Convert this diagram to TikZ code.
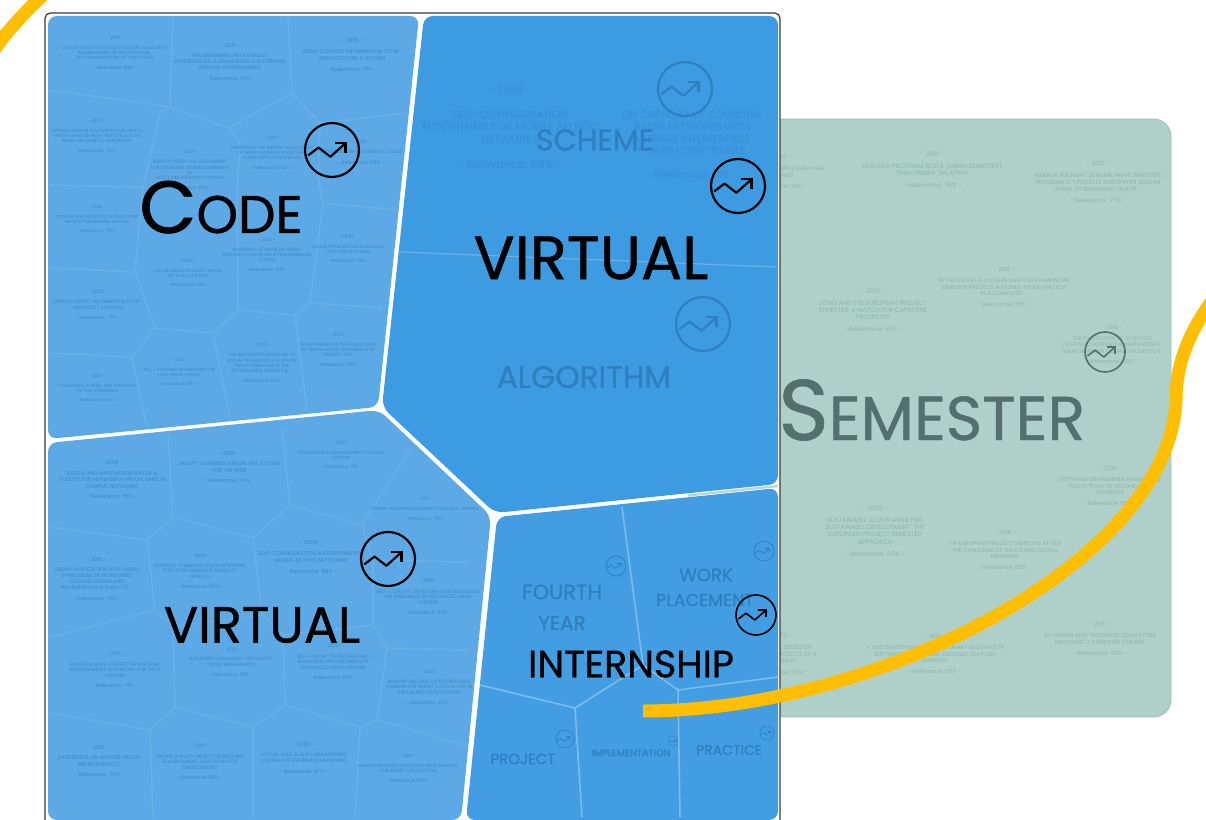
\documentclass[tikz,border=0pt]{standalone}
\usepackage{fontspec}
\setmainfont{Poppins}
\newfontfamily\labelfont{Poppins}[FakeBold=0.8]
\newcommand\px[1]{\fontsize{\fpeval{#1*0.569}}{\fpeval{#1*0.569*1.15}}\selectfont}
\definecolor{codeblue}{HTML}{5CA9E5}
\definecolor{mainblue}{HTML}{3D9BE1}
\definecolor{internblue}{HTML}{439DE2}
\definecolor{semgreen}{HTML}{AFD0C8}
\definecolor{semedge}{HTML}{9DC2B8}
\definecolor{semgap}{HTML}{B5D9CE}
\definecolor{semtext}{HTML}{8FB3AB}
\definecolor{semdark}{HTML}{53706C}
\definecolor{celltext}{HTML}{3F86C4}
\definecolor{maintext}{HTML}{3490D6}
\definecolor{ghost}{HTML}{2E80BF}
\definecolor{cellrule}{HTML}{69B0E7}
\definecolor{cellrulebright}{HTML}{7DBBEA}
\definecolor{gold}{HTML}{FFBE00}
\definecolor{frameline}{HTML}{3A3A3A}
\tikzset{
  cellnote/.style={font=\px{5},text=celltext,align=center,inner sep=0pt},
  semnote/.style={font=\px{5.6},text=semtext,align=center,inner sep=0pt},
  mainnote/.style={font=\px{11},text=maintext,align=center,inner sep=0pt},
  cellline/.style={draw=cellrule,line width=0.9pt,line join=round},
  brightline/.style={draw=cellrulebright,line width=0.9pt,line join=round},
  region/.style={rounded corners=5pt},
  biglabel/.style={inner sep=0pt,text=black},
  ghostlabel/.style={inner sep=0pt,text=ghost,align=center},
  goldline/.style={draw=gold,line width=7.4pt}
}
\newcommand\cellnode[7]{\node[#1] (#2) at (#3,#4) {#5\\[2.6pt]#6\\[2.6pt]#7};}
\newcommand\trend[5]{%
  \begin{scope}[shift={(#2,#3)},x={#4*0.02cm},y={-#4*0.02cm}]
    \node[circle,draw=#5,line width={#4*0.046pt},minimum size={2*#4*0.02cm},inner sep=0pt] (#1) at (0,0) {};
    \draw[draw=#5,line width={#4*0.046pt},line join=round] (-0.88,0.2) -- (-0.5,-0.09) -- (-0.06,0.25) -- (0.5,-0.25);
    \draw[draw=#5,line width={#4*0.046pt},line join=miter] (0.12,-0.25) -- (0.5,-0.25) -- (0.5,0.1);
  \end{scope}}
\begin{document}
\begin{tikzpicture}[x=0.02cm,y=-0.02cm]
\useasboundingbox (0,0) rectangle (1206,820);
\fill[white] (0,0) rectangle (1206,820);

% Semester card behind the frame
\filldraw[fill=semgreen,draw=semedge,line width=0.5pt,rounded corners=10pt] (760,119) rectangle (1171,717);
\cellnode{semnote}{s1}{780}{172}{- 2021 -}{MICROPROCESSORS (HARDWARE\\DESIGN99}{- Relevance: 74\% -}
\cellnode{semnote,font=\px{6.4}}{s2}{932}{170}{- 2018 -}{EVALUASI PROGRAM BESTA (HIBAH SEMESTER)\\'SHM UNISBA' SALATIGA}{- Relevance: 75\% -}
\cellnode{semnote,font=\px{6}}{s3}{1098}{182}{- 2021 -}{KINERJA PERAWAT DI KLINIK AKHIR SEMESTER\\PROGRAM S-1 PRODI DI KABUPATEN SIDOAN\\UTARA, DI SEMARANG TIUR PE ...}{- Relevance: 77\% -}
\cellnode{semnote,font=\px{6.3}}{s4}{873}{310}{- 2010 -}{ZOHO AND THE EUROPEAN PROJECT\\SEMESTER: A MATCH FOR CAPSTONE\\PROJECTS?}{- Relevance: 67\% -}
\cellnode{semnote}{s5}{1004}{287}{- 2018 -}{BY PROVIDING A SYSTEMS ANALYSIS FRAMEWORK\\SEMESTER PROJECT: A MOBILE-BASED AND NOT\\IN A COMPUTER ...}{- Relevance: 75\% -}
\cellnode{semnote,font=\px{5.4}}{s6}{1112}{345}{- 2016 -}{THE EVALUATION OF STUDENTS\\POSITIVE COOPERATIVE MANAGEMENT\\WEEK SEMESTER COURSE PROMOTION}{- Relevance: 65\% -}
\cellnode{semnote}{s7}{1110}{486}{- 2021 -}{SOFTWARE ENGINEERING FRAMEWORK\\PERCEPTIONS OF SECOND YEAR\\STUDENTS}{- Relevance: 66\% -}
\cellnode{semnote,font=\px{6.4}}{s8}{875}{531}{- 2008 -}{SUSTAINABLE CLOUD AGILE FOR\\SUSTAINABLE DEVELOPMENT: THE\\EUROPEAN PROJECT SEMESTER\\APPROACH}{- Relevance: 65\% -}
\cellnode{semnote}{s9}{1005}{550}{- 2018 -}{THE EUROPEAN PROJECT SEMESTER AT ISEP:\\THE CHALLENGE OF EDUCATING GLOBAL\\ENGINEERS}{- Relevance: 65\% -}
\cellnode{semnote,font=\px{6}}{s10}{780}{654}{- 2022 -}{IMMERSION: SEMESTER\\CAPSTONE PROJECT AS A\\STRATEGY?}{- Relevance: 67\% -}
\cellnode{semnote}{s11}{935}{654}{- 2013 -}{A TWO SEMESTER MULTI-DISCIPLINARY SEQUENCE IN\\SOFTWARE ENGINEERING: DESIGNED (UAP SAN\\MARCOS)}{- Relevance: 65\% -}
\cellnode{semnote,font=\px{5.9}}{s12}{1100}{639}{- 2021 -}{IN CAREER AND TECHNICAL EDUCATION\\IMPROVED 2-SEMESTER COURSE}{- Relevance: 63\% -}
\trend{iconSem}{1105}{352}{20}{semdark}
\node[inner sep=0pt,text=semdark,anchor=base west] (semester) at (778,440) {\labelfont\px{86}S\px{62}EMESTER};

% Frame
\filldraw[fill=white,draw=frameline,line width=0.7pt,rounded corners=3pt] (45,13) rectangle (780,830);

% Regions
\fill[codeblue,region] (48,16) -- (419,16) -- (378,407) -- (48,439) -- cycle;
\fill[codeblue,region] (48,443) -- (379,410) -- (491,516) -- (461,820) -- (48,820) -- cycle;
\fill[mainblue,region] (424,16) -- (778,16) -- (778,484) -- (495,513) -- (382,407) -- cycle;
\fill[internblue,region] (497,517) -- (778,488) -- (778,820) -- (466,820) -- cycle;
\draw[draw=semgap,line width=1.3pt] (688,495.5) -- (778,486);

% Code cell rules
\draw[cellline] (173,17) -- (170,107) -- (50,90);
\draw[cellline] (170,107) -- (228,128) -- (292,93) -- (288,17);
\draw[cellline] (292,93) -- (320,123) -- (407,113);
\draw[cellline] (320,123) -- (318,177) -- (323,203) -- (397,210);
\draw[cellline] (228,128) -- (240,143) -- (237,190) -- (238,310);
\draw[cellline] (170,107) -- (160,113) -- (143,187) -- (135,272) -- (50,268);
\draw[cellline] (143,187) -- (50,185);
\draw[cellline] (135,272) -- (155,328) -- (132,357) -- (50,353);
\draw[cellline] (155,328) -- (213,333) -- (238,310) -- (295,315) -- (310,303) -- (323,203);
\draw[cellline] (310,303) -- (383,308);
\draw[cellline] (213,333) -- (230,418);
\draw[cellline] (295,315) -- (307,410);
\draw[cellline] (132,357) -- (147,427);

% Lower Virtual cell rules
\draw[cellline] (168,435) -- (173,517) -- (147,540) -- (50,527);
\draw[cellline] (173,517) -- (253,538) -- (290,505) -- (282,430);
\draw[cellline] (290,505) -- (362,525) -- (410,450);
\draw[cellline] (362,525) -- (373,560) -- (467,562);
\draw[cellline] (147,540) -- (155,610) -- (173,627) -- (175,707) -- (150,730) -- (50,713);
\draw[cellline] (155,610) -- (50,637);
\draw[cellline] (253,538) -- (262,615);
\draw[cellline] (173,627) -- (262,615) -- (283,635) -- (285,705);
\draw[cellline] (283,635) -- (373,625) -- (373,560);
\draw[cellline] (373,625) -- (387,648) -- (467,650);
\draw[cellline] (387,648) -- (377,720);
\draw[cellline] (175,707) -- (253,727) -- (285,705) -- (360,727) -- (377,720) -- (464,745);
\draw[cellline] (150,730) -- (153,817);
\draw[cellline] (253,727) -- (253,817);
\draw[cellline] (360,727) -- (355,817);

% Main cell rule
\draw[draw=cellrule,line width=0.7pt] (400,252) -- (777,267);

% Internship cell rules
\draw[brightline] (622,507) -- (643,665) -- (575,708) -- (480,685);
\draw[brightline] (643,665) -- (678,690) -- (778,677);
\draw[brightline] (678,690) -- (680,817);
\draw[brightline] (575,708) -- (582,817);

% Cell notes: Code
\cellnode{cellnote,font=\px{4.6}}{c1}{115}{53}{- 2019 -}{A PILOT STUDY TO EVALUATE GUARD RAILS WITH\\MANAGEMENT OF PROFESSIONAL\\RECOMMENDATION OF CODE FIXES}{- Relevance: 89\% -}
\cellnode{cellnote,font=\px{5.2}}{c2}{230}{62}{- 2011 -}{PROGRAMMING WITH EXPLICIT\\DEPENDENCIES: A FRAMEWORK FOR FORGING\\PARALLEL PROGRAMMERS}{- Relevance: 78\% -}
\cellnode{cellnote,font=\px{5.5}}{c3}{352}{55}{- 2016 -}{USING CONTEXT INFORMATION TO RE-\\ARCHITECTURE A SYSTEM}{- Relevance: 75\% -}
\cellnode{cellnote,font=\px{4.6}}{c4}{97}{136}{- 2017 -}{OPTIMAL SENSOR PLACEMENT FOR HEALTH\\MONITORING OF HIGH-RISE STRUCTURE\\BASED ON GENETIC ALGORITHM}{- Relevance: 75\% -}
\cellnode{cellnote,font=\px{4.6}}{c5}{190}{170}{- 2021 -}{RIGHTLY-SPEED-TOE ASSESSMENT\\FOR DETERMINE DESIGN INVARIANTS\\IN\\MULTI-TIER WEB APPLICATIONS}{- Relevance: 67\% -}
\cellnode{cellnote,font=\px{4.6}}{c6}{272}{153}{- 2021 -}{IMPROVING THE ENERGY ALLOCATION\\OF MIXED MATERIAL STRUCTURE\\COMPOSITE OPTIMIZATION}{- Relevance: 52\% -}
\cellnode{cellnote}{c7}{361}{152}{- 2022 -}{OPTIMIZATION IN A GENETIC CODE}{- Relevance: 54\% -}
\cellnode{cellnote,font=\px{4.4}}{c8}{97}{219}{- 2014 -}{OPTIMAL AND HEURISTIC GLOBAL CODE\\MOTION FOR MINIMAL SPILLING}{- Relevance: 72\% -}
\cellnode{cellnote,font=\px{4.9}}{c9}{98}{305}{- 2020 -}{USING CONTEXT INFORMATION TO RE-\\ARCHITECT A SYSTEM}{- Relevance: 75\% -}
\cellnode{cellnote,font=\px{4.4}}{c10}{188}{273}{- 1996 -}{CACHE SENSITIVE STATIC SINGLE\\DELTA ALLOCATION}{- Relevance: 55\% -}
\cellnode{cellnote,font=\px{4.6}}{c11}{267}{255}{- 2018 -}{RELIABILITY OF PROBLEM-BASED\\BRIDGING COURSES IN A PROGRAMMING\\COURSE}{- Relevance: 49\% -}
\cellnode{cellnote,font=\px{4.5}}{c12}{348}{249}{- 1999 -}{CACHE OPTIMIZATION RELEVANCE\\TOOL FOR BLOCKING}{- Relevance: 55\% -}
\cellnode{cellnote,font=\px{4.4}}{c13}{97}{388}{- 2021 -}{CHALLENGES, RUPIAH, AND SURVIVALS\\OF THAT PARADIGM}{- Relevance: 65\% -}
\cellnode{cellnote,font=\px{4.3}}{c14}{179}{372}{- 2021 -}{PCL: A PORTABLE FRAMEWORK FOR\\HIGH-SPEED TUNING}{- Relevance: 53\% -}
\cellnode{cellnote,font=\px{4.6}}{c15}{262}{363}{- 2023 -}{THE RECONTEXTUALIZATION OF\\SOCIAL PEDAGOGY: A STUDY OF\\THREE CURRICULA IN THE\\NETHERLANDS, BURNLEY \& ...}{- Relevance: 50\% -}
\cellnode{cellnote,font=\px{4.6}}{c16}{338}{350}{- 2023 -}{DEVELOPMENTS IN THE EVALUATION\\OF TRANS-MODEL LEARNING: A UK\\PERSPECTIVE}{- Relevance: 50\% -}

% Cell notes: lower Virtual
\cellnode{cellnote,font=\px{5.4}}{v1}{112}{480}{- 2008 -}{DESIGN AND IMPLEMENTATION OF A\\TOOLKIT FOR MANAGING VIRTUAL LANS IN\\CAMPUS NETWORKS}{- Relevance: 75\% -}
\cellnode{cellnote,font=\px{5.4}}{v2}{229}{467}{- 2015 -}{GRAVY: TOWARDS VIRTUAL FILE SYSTEM\\FOR THE WEB}{- Relevance: 74\% -}
\cellnode{cellnote,font=\px{4.5}}{v3}{341}{455}{- 2021 -}{TOWARDS SDN MANAGEMENT FOR DATA\\CENTERS}{- Relevance: 71\% -}
\cellnode{cellnote,font=\px{4.4}}{v4}{425}{509}{- 2011 -}{ENERGY-AWARE MANAGEMENT FOR DATA CENTERS}{- Relevance: 70\% -}
\cellnode{cellnote,font=\px{5.2}}{v5}{97}{579}{- 2015 -}{USENIX ASSOCIATION 10TH USENIX\\SYMPOSIUM ON NETWORKED\\SYSTEMS DESIGN AND\\IMPLEMENTATION (NSDI '13) ...}{- Relevance: 75\% -}
\cellnode{cellnote,font=\px{4.8}}{v6}{200}{571}{- 2014 -}{ADAPTIVE COMMUNICATION NETWORKS\\FOR HETEROGENEOUS TEAMS OF\\ROBOTS}{- Relevance: 58\% -}
\cellnode{cellnote,font=\px{5.5}}{v7}{311}{557}{- 2008 -}{SELF-CONFIGURATION ALGORITHMS FOR\\MOBILE AD HOC NETWORKS}{- Relevance: 68\% -}
\cellnode{cellnote}{v8}{428}{597}{- 2012 -}{SELF-COHORT: DETECTING AND MANAGING\\VM ENSEMBLES IN VIRTUALIZED DATA\\CENTERS}{- Relevance: 67\% -}
\cellnode{cellnote}{v9}{115}{670}{- 2011 -}{DRIVER: A MULTI-OBJECTIVE MACHINE\\REASSIGNMENT ALGORITHM FOR DATA\\CENTERS}{- Relevance: 75\% -}
\cellnode{cellnote,font=\px{4.7}}{v10}{231}{662}{- 2013 -}{ADVANCED AUTOMATIC VIRTUALIZED\\CLOUD MANAGEMENT}{- Relevance: 58\% -}
\cellnode{cellnote}{v11}{333}{662}{- 2012 -}{SEL-COHORT: DETECTING AND\\MANAGING VM ENSEMBLES IN\\VIRTUALIZED DATA CENTERS}{- Relevance: 67\% -}
\cellnode{cellnote,font=\px{4.8}}{v12}{429}{687}{- 2013 -}{MEMORY BUDDIES: EXPLOITING PAGE\\SHARING FOR SMART COLOCATION IN\\VIRTUALIZED DATA CENTERS}{- Relevance: 67\% -}
\cellnode{cellnote,font=\px{5.4}}{v13}{99}{761}{- 2016 -}{SHOEBOXES: AN APACHE MESOS\\MICROSERVICES}{- Relevance: 75\% -}
\cellnode{cellnote,font=\px{4.9}}{v14}{200}{762}{- 2016 -}{DRIVER: A MULTI-OBJECTIVE MACHINE\\REASSIGNMENT ALGORITHM FOR\\DATA CENTERS}{- Relevance: 68\% -}
\cellnode{cellnote,font=\px{5.1}}{v15}{304}{758}{- 2009 -}{VIRTUAL MAC \& VLAN MANAGEMENT\\SYSTEM FOR ENTERPRISE NETWORKS}{- Relevance: 67\% -}
\cellnode{cellnote,font=\px{4.6}}{v16}{408}{768}{- 2013 -}{MEMORY BUDDIES: EXPLOITING PAGE SHARING\\FOR SMART COLOCATION}{- Relevance: 65\% -}

% Main region notes
\node[mainnote] (m1) at (510,127) {- 2008 -\\[7pt]SELF-CONFIGURATION\\ALGORITHMS FOR MOBILE AD HOC\\NETWORKS\\[7pt]- Relevance: 68\% -};
\node[mainnote,font=\px{10.2}] (m2) at (692,145) {ON CAPACITY OF COGNITIVE\\RADIO NETWORKS WITH\\AVERAGE INTERFERENCE\\POWER CONSTRAINTS\\[7pt]- Relevance: 71\% -};

% Ghost labels
\node[ghostlabel,font=\labelfont\px{30}] (scheme) at (595,140) {SCHEME};
\node[ghostlabel,font=\labelfont\px{31}] (algorithm) at (584,377) {ALGORITHM};
\node[ghostlabel,font=\labelfont\px{21}] (fourth) at (562,592) {FOURTH};
\node[ghostlabel,font=\labelfont\px{20}] (year) at (562,623) {YEAR};
\node[ghostlabel,font=\labelfont\px{18}] (work) at (706,575) {WORK};
\node[ghostlabel,font=\labelfont\px{17.5}] (placement) at (705,600) {PLACEMENT};
\node[ghostlabel,font=\labelfont\px{15}] (project) at (523,759) {PROJECT};
\node[ghostlabel,font=\labelfont\px{9.6}] (impl) at (631,753) {IMPLEMENTATION};
\node[ghostlabel,font=\labelfont\px{14}] (practice) at (729,750) {PRACTICE};

% Ghost icons
\trend{iconScheme}{685}{89}{27}{ghost}
\trend{iconAlgo}{703}{324}{27}{ghost}
\trend{iconFourth}{616}{566}{10}{ghost}
\trend{iconWork}{764}{551}{10}{ghost}
\trend{iconProject}{565}{739}{9}{ghost}
\trend{iconImpl}{673}{741}{5}{ghost}
\trend{iconPractice}{767}{733}{7}{ghost}

% Main labels
\node[biglabel,anchor=base west] (code) at (139,233) {\labelfont\px{74}C\px{53}ODE};
\node[biglabel,font=\labelfont\px{61}] (virtualmain) at (591,258) {VIRTUAL};
\node[biglabel,font=\labelfont\px{51}] (virtuallow) at (262,625) {VIRTUAL};
\node[biglabel,font=\labelfont\px{38}] (internship) at (631,664) {INTERNSHIP};

% Black icons
\trend{iconCode}{332}{150}{27}{black}
\trend{iconMain}{738}{186}{27}{black}
\trend{iconLow}{388}{559}{27}{black}
\trend{iconIntern}{756}{615}{20}{black}

% Gold curves
\coordinate (goldA) at (643,711);
\coordinate (goldB) at (1176,400);
\coordinate (goldC) at (1214,298);
\draw[goldline] (goldA) .. controls (880,711) and (1170,560) .. (goldB) .. controls (1176,360) and (1192,328) .. (goldC);
\coordinate (goldD) at (-6,50);
\coordinate (goldE) at (44,-6);
\draw[goldline] (goldD) .. controls (8,30) and (25,12) .. (goldE);
\end{tikzpicture}
\end{document}
